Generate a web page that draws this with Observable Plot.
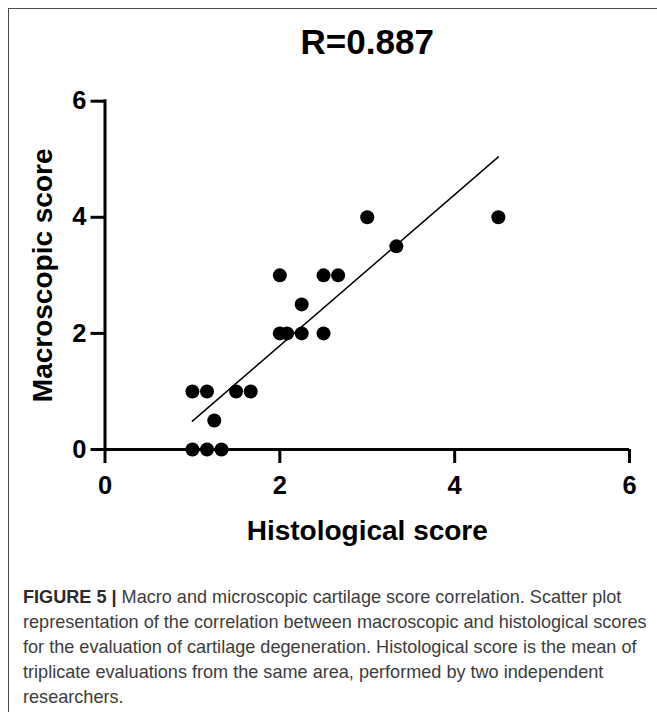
<!DOCTYPE html>
<html>
<head>
<meta charset="utf-8">
<script src="https://cdn.jsdelivr.net/npm/d3@7"></script>
<script src="https://cdn.jsdelivr.net/npm/@observablehq/plot@0.6"></script>
<style>
  html, body { margin: 0; padding: 0; background: #fff; }
  #wrap { position: relative; width: 657px; height: 712px; overflow: hidden; }
  #chart { position: absolute; left: 0; top: 0; }
  #frame { position: absolute; left: 8px; top: 8px; right: -4px; bottom: -4px;
           border-top: 1.5px solid #4a4a4a; border-left: 1.5px solid #4a4a4a; pointer-events: none; }
  #caption { position: absolute; left: 23px; top: 585px; color: #3c3c3c; line-height: 25px; white-space: nowrap; }
  #caption b { color: #2a2a2a; }
</style>
</head>
<body>
<div id="wrap">
  <div id="chart"></div>
  <div id="caption"></div>
  <div id="frame"></div>
</div>
<script>
// ---- data ----
const histological = [1.0, 1.167, 1.25, 1.0, 1.167, 1.333, 1.5, 1.667, 2.0, 2.25, 2.5, 2.667, 2.0, 2.083, 2.25, 2.5, 3.0, 3.333, 4.5];
const macroscopic  = [1.0, 1.0,   0.5,  0.0, 0.0,   0.0,   1.0, 1.0,   3.0, 2.5,  3.0, 3.0,   2.0, 2.0,   2.0,  2.0, 4.0, 3.5,   4.0];
const xTicks = [0, 2, 4, 6];
const yTicks = [0, 2, 4, 6];
const titleText = "R=0.887";
const xLabel = "Histological score";
const yLabel = "Macroscopic score";
const captionBold = "FIGURE 5 |";
const captionLines = [
  " Macro and microscopic cartilage score correlation. Scatter plot",
  "representation of the correlation between macroscopic and histological scores",
  "for the evaluation of cartilage degeneration. Histological score is the mean of",
  "triplicate evaluations from the same area, performed by two independent",
  "researchers."
];

const data = histological.map((x, i) => ({x, y: macroscopic[i]}));

const font = "'Liberation Sans', Arial, Helvetica, sans-serif";

const chart = Plot.plot({
  width: 657,
  height: 560,
  marginLeft: 104.5,
  marginRight: 28,
  marginTop: 100.7,
  marginBottom: 111,
  x: {domain: [0, 6]},
  y: {domain: [0, 6]},
  style: {background: "transparent", fontFamily: font, color: "#000", overflow: "visible"},
  marks: [
    Plot.linearRegressionY(data, {x: "x", y: "y", ci: 0, stroke: "#000", strokeWidth: 1.5}),
    Plot.ruleY([0], {stroke: "#000", strokeWidth: 3}),
    Plot.ruleX([0], {stroke: "#000", strokeWidth: 3, strokeLinecap: "square"}),
    Plot.axisX(xTicks, {tickSize: 14, tickPadding: 12, strokeWidth: 3, fontSize: 25.5, fontWeight: "bold", label: null, tickFormat: d => String(d), strokeOpacity: 1}),
    Plot.axisY(yTicks, {tickSize: 14, tickPadding: 4.5, strokeWidth: 3, fontSize: 25.5, fontWeight: "bold", label: null, tickFormat: d => String(d), strokeOpacity: 1}),
    Plot.dot(data, {x: "x", y: "y", r: 7, fill: "#000", stroke: null}),
    Plot.text([xLabel], {text: d => d, frameAnchor: "bottom", lineAnchor: "middle", textAnchor: "middle", dy: 82, fontSize: 28, fontWeight: "bold", fill: "#000"}),
    Plot.text([yLabel], {text: d => d, frameAnchor: "left", lineAnchor: "middle", textAnchor: "middle", rotate: -90, dx: -62, fontSize: 28, fontWeight: "bold", fill: "#000"}),
    Plot.text([titleText], {text: d => d, frameAnchor: "top", lineAnchor: "middle", textAnchor: "middle", dy: -58, fontSize: 35, fontWeight: "bold", fill: "#000"})
  ]
});
document.getElementById("chart").appendChild(chart);

// ---- caption ----
function installed(name) {
  const c = document.createElement("canvas").getContext("2d");
  c.font = "40px monospace";
  const a = c.measureText("abcdefghijklmnopqrstuvwxyz").width;
  c.font = `40px "${name}", monospace`;
  const b = c.measureText("abcdefghijklmnopqrstuvwxyz").width;
  return a !== b;
}
const capFamily = installed("Liberation Sans Narrow") ? "'Liberation Sans Narrow', 'Liberation Sans', Arial, sans-serif" : font;
const ctx = document.createElement("canvas").getContext("2d");
ctx.font = `100px ${capFamily}`;
const w100 = ctx.measureText(captionLines[1]).width;
const capSize = Math.min(22, 624 / w100 * 100);
const cap = document.getElementById("caption");
cap.style.fontFamily = capFamily;
cap.style.fontSize = capSize + "px";
const first = document.createElement("div");
const b = document.createElement("b");
b.textContent = captionBold;
first.appendChild(b);
first.appendChild(document.createTextNode(captionLines[0]));
cap.appendChild(first);
captionLines.slice(1).forEach(t => {
  const d = document.createElement("div");
  d.textContent = t;
  cap.appendChild(d);
});
</script>
</body>
</html>
